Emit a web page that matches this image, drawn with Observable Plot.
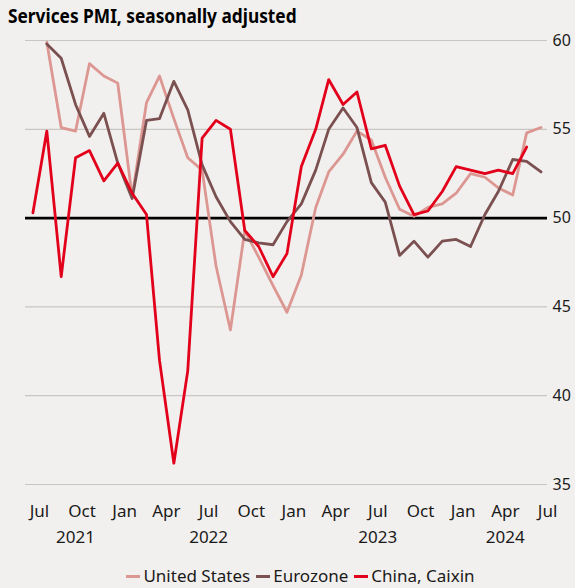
<!DOCTYPE html>
<html><head><meta charset="utf-8">
<script src="https://cdn.jsdelivr.net/npm/d3@7"></script>
<script src="https://cdn.jsdelivr.net/npm/@observablehq/plot@0.6"></script>
<style>
html,body{margin:0;padding:0;background:#f2f0ee;}
body{width:575px;height:588px;position:relative;overflow:hidden;font-family:"Noto Sans","DejaVu Sans",sans-serif;}
#title{position:absolute;left:8px;top:2px;font-weight:bold;font-size:20px;color:#000;white-space:nowrap;transform:scaleX(0.865);transform-origin:0 0;}
#chart{position:absolute;left:0;top:30px;}
#legend{position:absolute;left:13px;width:575px;top:565px;text-align:center;font-size:17px;color:#1a1a1a;line-height:22px;white-space:nowrap;}
.item{display:inline-block;margin:0 3px;}
.sw{display:inline-block;width:14px;height:3px;vertical-align:middle;margin-right:3px;position:relative;top:-1px;}
</style></head><body>
<div id="title">Services PMI, seasonally adjusted</div>
<div id="chart"></div>
<div id="legend"></div>
<script>
// Series names and colours
const seriesNames = ["United States", "Eurozone", "China, Caixin"];
const seriesColors = ["#dc9793", "#7b5051", "#e3001b"];

// First month of each series [year, monthIndex]
const usStart = [2021, 6];   // Jul 2021
const ezStart = [2021, 6];   // Jul 2021
const cnStart = [2021, 5];   // Jun 2021

// Monthly values
const usValues = [59.9, 55.1, 54.9, 58.7, 58.0, 57.6,
  51.2, 56.5, 58.0, 55.6, 53.4, 52.7, 47.3, 43.7, 49.3, 47.8, 46.2, 44.7,
  46.8, 50.6, 52.6, 53.6, 54.9, 54.4, 52.3, 50.5, 50.1, 50.6, 50.8, 51.4,
  52.5, 52.3, 51.7, 51.3, 54.8, 55.1];
const ezValues = [59.8, 59.0, 56.4, 54.6, 55.9, 53.1,
  51.1, 55.5, 55.6, 57.7, 56.1, 53.0, 51.2, 49.8, 48.8, 48.6, 48.5, 49.8,
  50.8, 52.7, 55.0, 56.2, 55.1, 52.0, 50.9, 47.9, 48.7, 47.8, 48.7, 48.8,
  48.4, 50.2, 51.5, 53.3, 53.2, 52.6];
const cnValues = [50.3, 54.9, 46.7, 53.4, 53.8, 52.1, 53.1,
  51.4, 50.2, 42.0, 36.2, 41.4, 54.5, 55.5, 55.0, 49.3, 48.4, 46.7, 48.0,
  52.9, 55.0, 57.8, 56.4, 57.1, 53.9, 54.1, 51.8, 50.2, 50.4, 51.5, 52.9,
  52.7, 52.5, 52.7, 52.5, 54.0];

// Axis ticks
const yTicks = [35, 40, 45, 50, 55, 60];
const gridTicks = [35, 40, 45, 55, 60];
const monthTicks = ["2021-07-01","2021-10-01","2022-01-01","2022-04-01","2022-07-01","2022-10-01",
  "2023-01-01","2023-04-01","2023-07-01","2023-10-01","2024-01-01","2024-04-01","2024-07-01"];
const yearLabels = [["2021","2021-09-17"],["2022","2022-07-01"],["2023","2023-07-01"],["2024","2024-04-01"]];
const xDomain = ["2021-06-01", "2024-07-01"];

const toRows = (name, start, vals) => vals.map((v, i) => ({
  series: name, date: new Date(Date.UTC(start[0], start[1] + i, 17)), value: v
}));
const rows = [
  ...toRows(seriesNames[0], usStart, usValues),
  ...toRows(seriesNames[1], ezStart, ezValues),
  ...toRows(seriesNames[2], cnStart, cnValues)
];

const font = '"Noto Sans","DejaVu Sans",sans-serif';
const yearMap = new Map(yearLabels.map(([t, d]) => [+new Date(d), t]));

const chart = Plot.plot({
  width: 575, height: 530,
  marginLeft: 25, marginRight: 28, marginTop: 10, marginBottom: 76,
  style: {background: "transparent", fontFamily: font, fontSize: "17px", color: "#1a1a1a"},
  x: {type: "utc", domain: xDomain.map(d => new Date(d))},
  y: {domain: [35, 60]},
  color: {domain: seriesNames, range: seriesColors},
  marks: [
    Plot.ruleY(gridTicks, {stroke: "#c9c5c2", strokeWidth: 1.2}),
    Plot.ruleY([50], {stroke: "#000", strokeWidth: 2.8}),
    Plot.lineY(rows, {x: "date", y: "value", z: "series", stroke: "series", strokeWidth: 2.8}),
    Plot.axisX(monthTicks.map(d => new Date(d)), {tickSize: 0, tickPadding: 20, tickFormat: d3.utcFormat("%b"), label: null, fontSize: 17}),
    Plot.axisX(yearLabels.map(([t, d]) => new Date(d)), {tickSize: 0, tickPadding: 46, tickFormat: d => yearMap.get(+d), label: null, fontSize: 17}),
    Plot.axisY(yTicks, {anchor: "right", tickSize: 0, tickPadding: 5, label: null, fontSize: 16})
  ]
});
document.getElementById("chart").appendChild(chart);

const legend = document.getElementById("legend");
seriesNames.forEach((n, i) => {
  const item = document.createElement("span");
  item.className = "item";
  item.innerHTML = `<span class="sw" style="background:${seriesColors[i]}"></span>${n}`;
  legend.appendChild(item);
});
</script>
</body></html>
